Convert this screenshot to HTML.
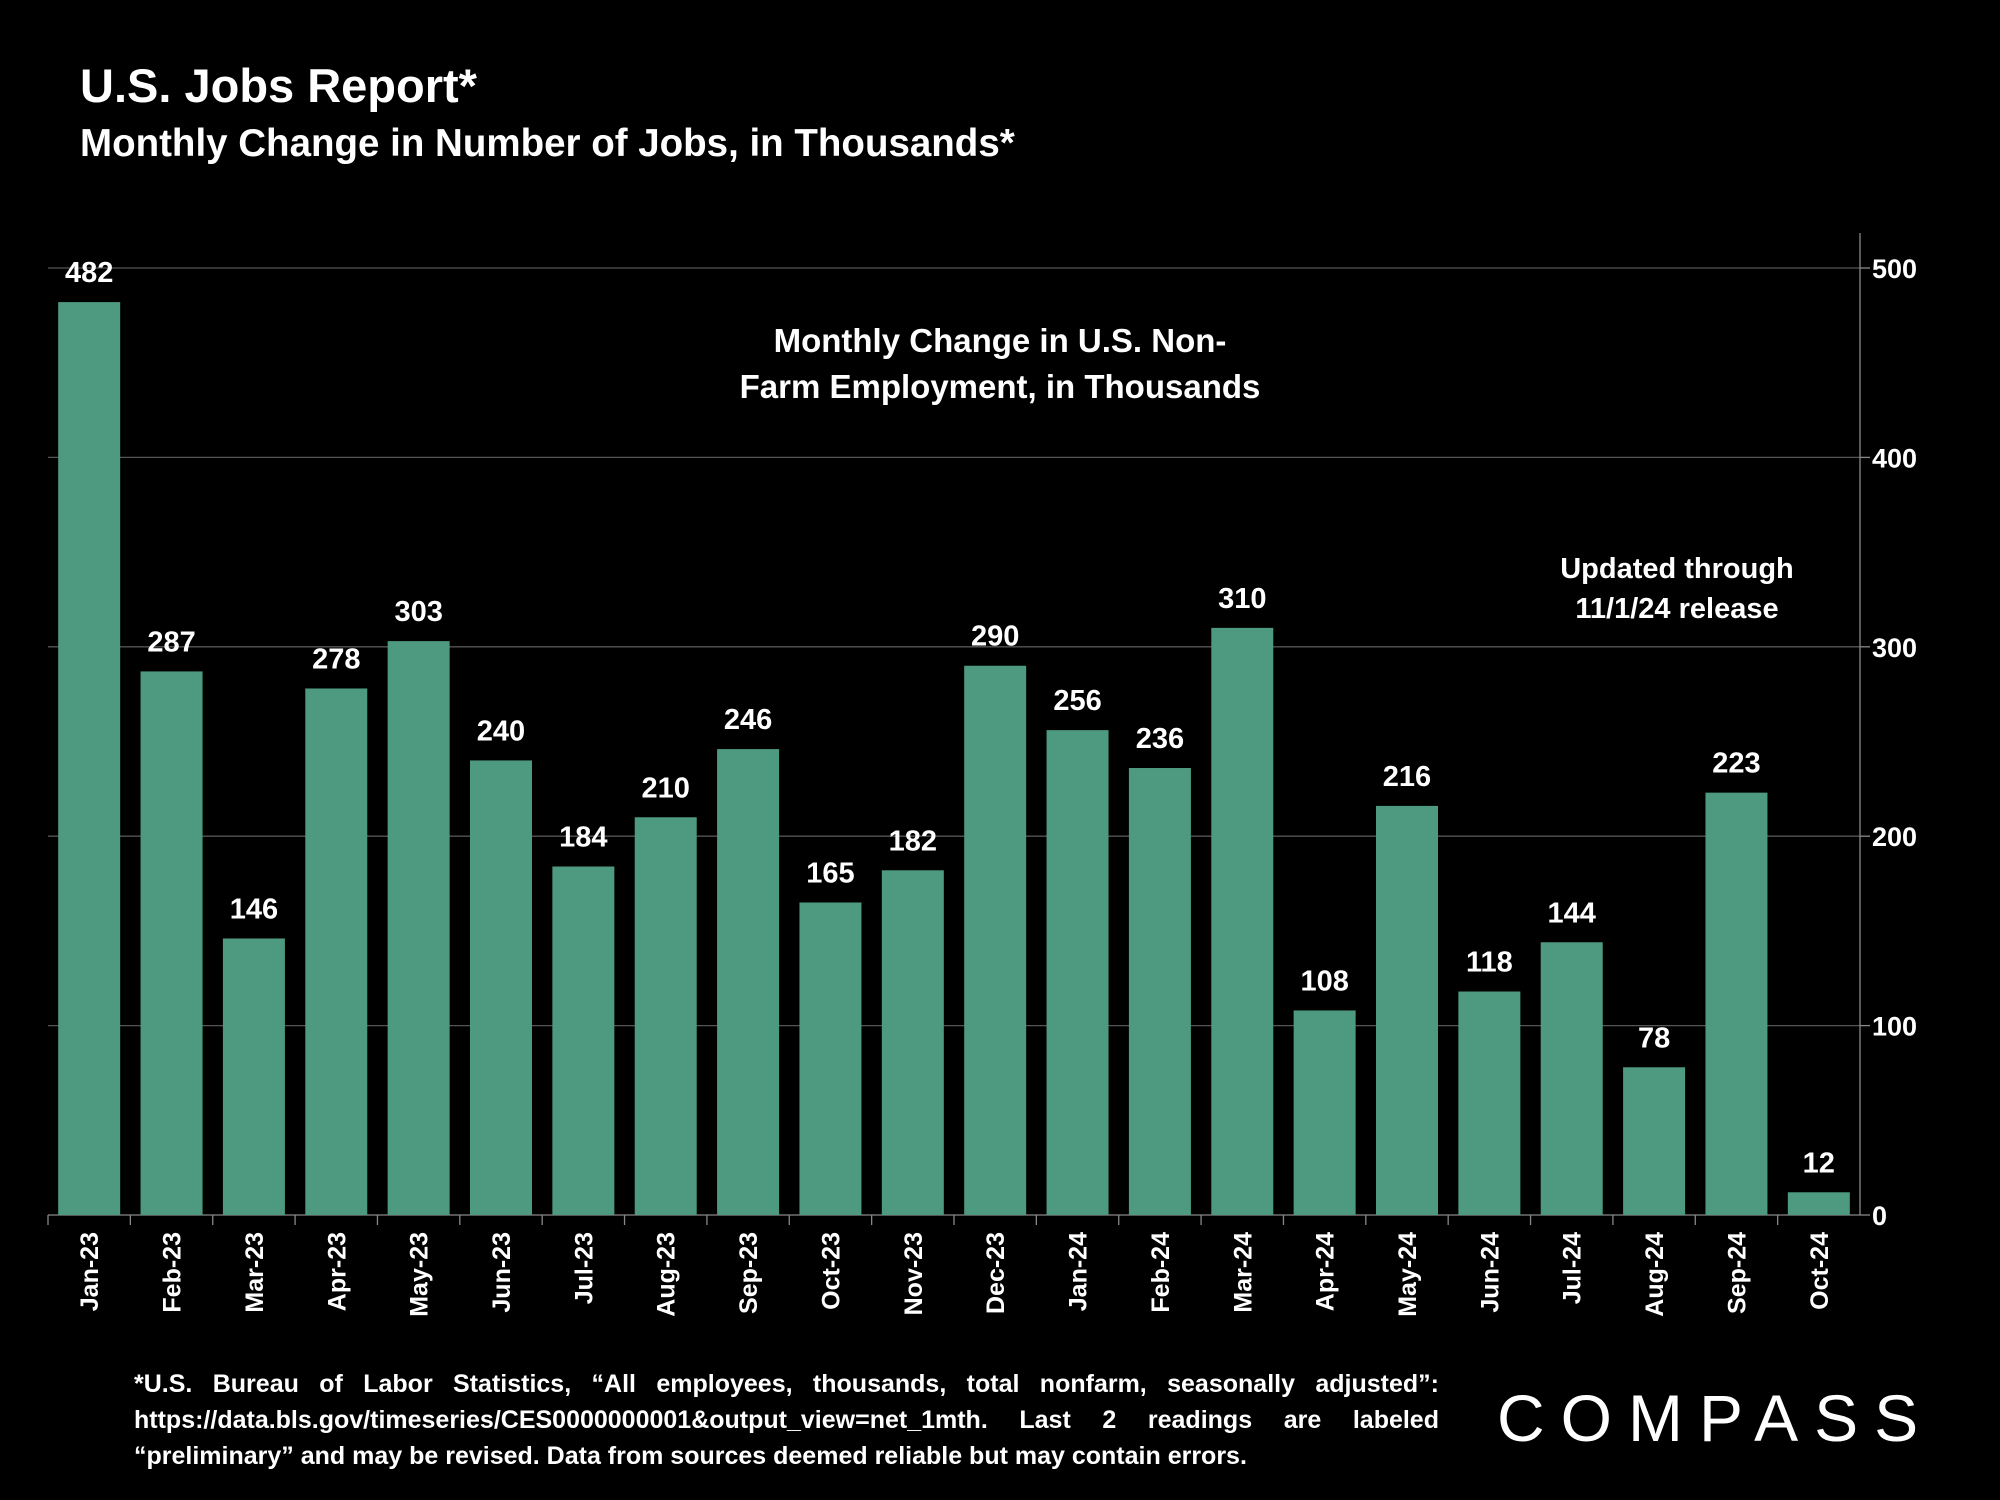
<!DOCTYPE html>
<html><head><meta charset="utf-8">
<style>
html,body{margin:0;padding:0;background:#000;}
body{width:2000px;height:1500px;position:relative;overflow:hidden;font-family:"Liberation Sans",sans-serif;color:#fff;}
.t{position:absolute;font-weight:bold;}
.foot{position:absolute;left:134px;width:1305px;font-size:25px;font-weight:bold;color:#fff;line-height:36px;}
.foot div{text-align:justify;text-align-last:justify;white-space:nowrap;}
.foot div.last{text-align-last:left;}
</style></head><body>
<div class="t" style="left:80px;top:58px;font-size:47px;">U.S. Jobs Report*</div>
<div class="t" style="left:80px;top:122px;font-size:38.5px;">Monthly Change in Number of Jobs, in Thousands*</div>
<svg id="chart" width="2000" height="1500" style="position:absolute;left:0;top:0;" font-family="Liberation Sans, sans-serif" font-weight="bold"></svg>
<div class="foot" style="top:1366px;">
<div>*U.S. Bureau of Labor Statistics, “All employees, thousands, total nonfarm, seasonally adjusted”:</div>
<div>https://data.bls.gov/timeseries/CES0000000001&amp;output_view=net_1mth. Last 2 readings are labeled</div>
<div class="last">“preliminary” and may be revised. Data from sources deemed reliable but may contain errors.</div>
</div>
<div class="t" style="left:1497px;top:1380px;font-size:66px;font-weight:normal;letter-spacing:16px;">COMPASS</div>
<script>
const categories=["Jan-23","Feb-23","Mar-23","Apr-23","May-23","Jun-23","Jul-23","Aug-23","Sep-23","Oct-23","Nov-23","Dec-23","Jan-24","Feb-24","Mar-24","Apr-24","May-24","Jun-24","Jul-24","Aug-24","Sep-24","Oct-24"];
const jobs=[482,287,146,278,303,240,184,210,246,165,182,290,256,236,310,108,216,118,144,78,223,12];
const yTicks=[0,100,200,300,400,500];
const NS="http://www.w3.org/2000/svg";
const svg=document.getElementById('chart');
const X0=48,X1=1860,Y0=1215,Y500=268;
const slot=(X1-X0)/categories.length;
const y=v=>Y0-(v/500)*(Y0-Y500);
const xc=i=>X0+slot*(i+0.5);
function mk(tag,attrs){const e=document.createElementNS(NS,tag);for(const k in attrs)e.setAttribute(k,attrs[k]);svg.appendChild(e);return e;}
yTicks.forEach(t=>{
  if(t>0){const g=mk('line',{x1:X0,x2:X1,y1:y(t),y2:y(t),stroke:'#555','stroke-width':1.3});
  
  }
  const tk=mk('line',{x1:X1,x2:X1+10,y1:y(t),y2:y(t),stroke:'#888','stroke-width':1.3});
  
  
  const tx=mk('text',{x:X1+12,y:y(t)+10,fill:'#fff','font-size':27});
  tx.textContent=t;
  
  
});
const ax=mk('line',{x1:X1,x2:X1,y1:233,y2:Y0,stroke:'#888','stroke-width':1.3});


const xa=mk('line',{x1:X0,x2:X1,y1:Y0,y2:Y0,stroke:'#888','stroke-width':1.3});


const bw=62;
categories.forEach((c,i)=>{
  const v=jobs[i];
  const tk=mk('line',{x1:X0+slot*i,x2:X0+slot*i,y1:Y0,y2:Y0+10,stroke:'#888','stroke-width':1.3});
  
  
  const r=mk('rect',{x:xc(i)-bw/2,y:y(v),width:bw,height:Y0-y(v),fill:'#4e9a80'});
  
  
  const l=mk('text',{x:xc(i),y:y(v)-20,fill:'#fff','font-size':29,'text-anchor':'middle'});
  l.textContent=v;
  
  
  const xl=mk('text',{x:0,y:0,fill:'#fff','font-size':25,'text-anchor':'end',transform:`translate(${xc(i)+9},1232) rotate(-90)`});
  xl.textContent=c;
  
  
});
[["Monthly Change in U.S. Non-",352],["Farm Employment, in Thousands",398]].forEach((a,k)=>{
  const t=mk('text',{x:1000,y:a[1],fill:'#fff','font-size':33,'text-anchor':'middle'});
  t.textContent=a[0];
  
  
});
[["Updated through",578],["11/1/24 release",618]].forEach((a,k)=>{
  const t=mk('text',{x:1677,y:a[1],fill:'#fff','font-size':29,'text-anchor':'middle'});
  t.textContent=a[0];
  
  
});
</script>
</body></html>
